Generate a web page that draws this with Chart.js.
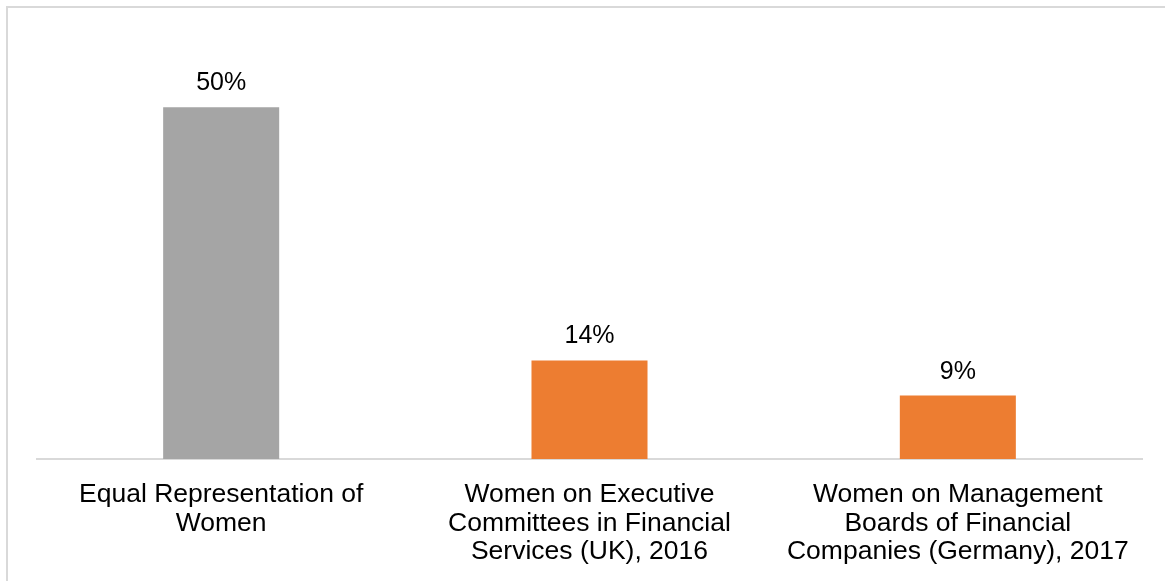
<!DOCTYPE html>
<html>
<head>
<meta charset="utf-8">
<script src="https://cdn.jsdelivr.net/npm/chart.js@4"></script>
<style>
  body { margin: 0; background: #fff; overflow: hidden; }
  #frame {
    position: absolute; left: 6px; top: 6px;
    width: 1159px; height: 575px;
    box-sizing: border-box;
    border-top: 2px solid #d9d9d9;
    border-left: 2px solid #d9d9d9;
  }
  #womenchart { position: absolute; left: 8px; top: 11px; display: block; }
</style>
</head>
<body>
<div id="frame"></div>
<canvas id="womenchart" width="1157" height="573"></canvas>
<script>
// categories (one array per label, split into lines) and their shares in percent
const categories = [
    ['Equal Representation of', 'Women'],
    ['Women on Executive', 'Committees in Financial', 'Services (UK), 2016'],
    ['Women on Management', 'Boards of Financial', 'Companies (Germany), 2017']
];
const shares = [50, 14, 9];
const barColors = ['#A5A5A5', '#ED7D31', '#ED7D31'];

const fontFamily = 'Liberation Sans, Arial, sans-serif';
const tickFont = { family: fontFamily, size: 26.5, lineHeight: 1.07 };

// write the percentage above every bar
const valueLabels = {
    id: 'valueLabels',
    afterDatasetsDraw(chart) {
        const ctx = chart.ctx;
        const meta = chart.getDatasetMeta(0);
        ctx.save();
        ctx.font = '25px ' + fontFamily;
        ctx.fillStyle = '#000';
        ctx.textAlign = 'center';
        ctx.textBaseline = 'alphabetic';
        meta.data.forEach((bar, i) => {
            ctx.fillText(shares[i] + '%', bar.x, bar.y - 17);
        });
        ctx.restore();
    }
};

const womenCtx = document.querySelector('#womenchart').getContext('2d');
const womenchart = new Chart(womenCtx, {
    type: 'bar',
    data: {
        labels: categories,
        datasets: [
            {
                label: 'Share of women',
                data: shares,
                backgroundColor: barColors,
                borderWidth: 0,
                barPercentage: 0.315,
                categoryPercentage: 1,
            },
        ],
    },
    options: {
        responsive: false,
        animation: false,
        layout: {
            padding: { left: 29, right: 23, top: 61, bottom: 4 }
        },
        plugins: {
            legend: { display: false },
            tooltip: { enabled: false }
        },
        scales: {
            x: {
                grid: { display: false },
                border: { color: '#d9d9d9', width: 2 },
                ticks: {
                    color: '#000',
                    font: tickFont,
                    padding: 14,
                    maxRotation: 0,
                    autoSkip: false
                }
            },
            y: {
                display: false,
                min: 0,
                max: 55
            }
        }
    },
    plugins: [valueLabels]
});
</script>
</body>
</html>
